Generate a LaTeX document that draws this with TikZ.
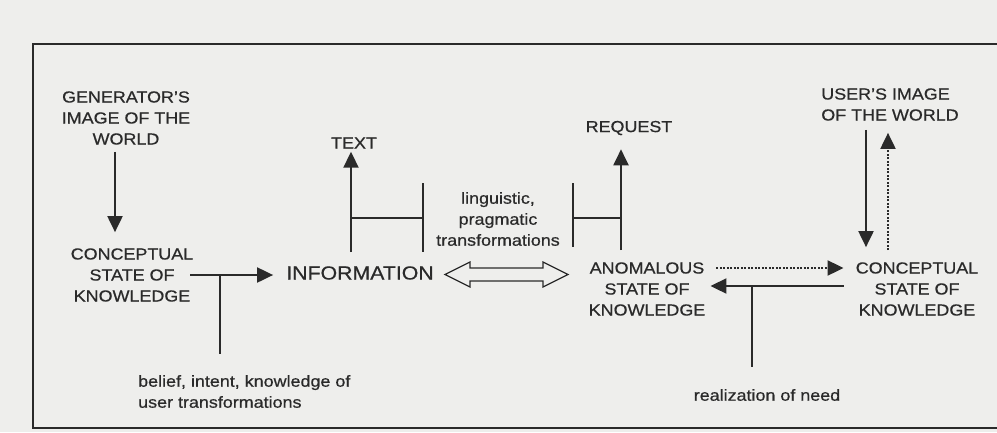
\documentclass[tikz,border=0pt]{standalone}
\usepackage{fontspec}
\setmainfont{Liberation Sans}[FakeStretch=1.12,FakeBold=0.6]
\usetikzlibrary{calc,arrows.meta}
\definecolor{ink}{HTML}{2A2A2A}
\definecolor{paper}{HTML}{EEEEEC}
\tikzset{
  lbl/.style={inner sep=0pt, align=center, text=ink, font=\fontsize{16}{21}\selectfont},
  arr/.style={draw=ink, line width=2pt, -{Triangle[width=15pt,length=16pt]}},
  dotarr/.style={arr, dash pattern=on 2pt off 1.5pt},
  stem/.style={draw=ink, line width=2pt},
  tick/.style={draw=ink, line width=1.3pt}
}
\begin{document}
\begin{tikzpicture}[x=1pt,y=-1pt]
			%%%%% START %%%%%
			
			\fill[paper] (0,0) rectangle (997,432);
			\useasboundingbox (0,0) rectangle (997,432);
			\draw[ink, line width=1.3pt] (33,44) rectangle (1010,428);
			
			% sender side
			\node[lbl] (genW) at (126,118) {GENERATOR'S\\IMAGE OF THE\\WORLD};
			\node[lbl] (csk1) at (132,275) {CONCEPTUAL\\STATE OF\\KNOWLEDGE};
			\node[lbl, font=\fontsize{19}{21}\selectfont] (info) at (360,273) {INFORMATION};
			\node[lbl] (text) at (354,143) {TEXT};
			\node[lbl, align=left, anchor=west] (belief) at (138,391.5) {belief, intent, knowledge of\\user transformations};
			
			\draw[arr] ($(genW.south)+(-11,7)$) -- ($(csk1.north)+(-17,-16)$);
			\draw[arr, shorten <=-3pt, shorten >=13pt] (csk1.east) -- (csk1.east -| info.west);
			\coordinate (bj) at ($(csk1.east)+(27,0)$);
			\draw[stem, shorten >=21pt] (bj) -- (bj |- belief.north);
			\draw[arr] ($(info.north)+(-9,-14)$) -- ($(text.south)+(-3,3)$);
			
			% transformations
			\node[lbl] (ling) at (498,219) {linguistic,\\pragmatic\\transformations};
			\draw[tick] (423,183) -- (423,252);
			\draw[tick] (351,218) -- (423,218);
			\draw[tick] (573,183) -- (573,247);
			\draw[tick] (573,218) -- (621,218);
			
			\draw[ink, fill=paper, line width=1.2pt] (445,274.5) -- (470,262) -- (470,268) -- (543,268)
			  -- (543,262) -- (568,274.5) -- (543,287) -- (543,281) -- (470,281) -- (470,287) -- cycle;
			
			% receiver side
			\node[lbl] (anom) at (647,289) {ANOMALOUS\\STATE OF\\KNOWLEDGE};
			\node[lbl] (request) at (629,128) {REQUEST};
			\node[lbl] (csk2) at (917,289) {CONCEPTUAL\\STATE OF\\KNOWLEDGE};
			\node[lbl, align=left] (userW) at (890,104.5) {USER'S IMAGE\\OF THE WORLD};
			\node[lbl] (need) at (767,395) {realization of need};
			
			\draw[arr] ($(anom.north)+(-26,-12)$) -- ($(request.south)+(-8,14)$);
			\draw[dotarr] ($(anom.east)+(11,-21)$) -- ($(csk2.west)+(-12,-21)$);
			\draw[arr] ($(csk2.west)+(-12,-3)$) -- ($(anom.east)+(5,-3)$);
			\coordinate (nj) at ($(csk2.west)+(-103.5,-3)$);
			\draw[stem, shorten >=22pt] (nj) -- (nj |- need.north);
			\draw[arr] ($(userW.south)+(-24,9)$) -- ($(csk2.north)+(-51,-15)$);
			\draw[dotarr] ($(csk2.north)+(-29,-12)$) -- ($(userW.south)+(-2,12)$);
			
			%%%%% END %%%%%
\end{tikzpicture}
\end{document}
